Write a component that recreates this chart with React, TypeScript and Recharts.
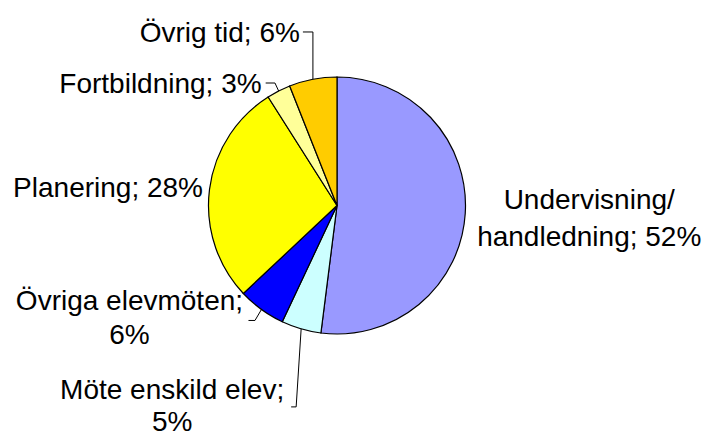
import { Cell, Pie, PieChart } from "recharts"

const categories = [
    "Undervisning/handledning",
    "Möte enskild elev",
    "Övriga elevmöten",
    "Planering",
    "Fortbildning",
    "Övrig tid",
]
const shares = [52, 5, 6, 28, 3, 6]
const colors = ["#9999FF", "#CCFFFF", "#0000FF", "#FFFF00", "#FFFF99", "#FFCC00"]

const data = categories.map((name, i) => ({ name, value: shares[i] }))

// label placement relative to the point where the slice's mid-angle meets the rim
const labelLayout: any[] = [
    { dx: 124, dy: -5, anchor: "middle", wrap: "slash", lh: 37 },
    { dx: -129, dy: 70, anchor: "middle", wrap: "name", lh: 32.5, line: [[-5, 78], [-10, 78]] },
    { dx: -132, dy: 0.5, anchor: "middle", wrap: "name", lh: 34, line: [[-6.5, 11], [-13, 11]] },
    { dx: -6.5, dy: 7.3, anchor: "end", wrap: "none" },
    { dx: -17, dy: 2.3, anchor: "end", wrap: "none", line: [[-3.7, -8], [-13, -8]] },
    { dx: -13, dy: -37.3, anchor: "end", wrap: "none", line: [[0, -47.3], [-10, -47.3]] },
]

const RADIAN = Math.PI / 180

function renderLabel(props: any) {
    const { cx, cy, midAngle, outerRadius, index, name, value } = props
    const layout = labelLayout[index]
    const ex = cx + outerRadius * Math.cos(-midAngle * RADIAN)
    const ey = cy + outerRadius * Math.sin(-midAngle * RADIAN)

    let lines: string[]
    if (layout.wrap === "slash") {
        const [a, b] = name.split("/")
        lines = [a + "/", `${b}; ${value}%`]
    } else if (layout.wrap === "name") {
        lines = [name + ";", `${value}%`]
    } else {
        lines = [`${name}; ${value}%`]
    }

    const points = layout.line
        ? [[0, 0], ...layout.line].map(([x, y]: number[]) => `${ex + x},${ey + y}`).join(" ")
        : null

    return (
        <g key={`label-${index}`}>
            {points && <polyline points={points} fill="none" stroke="#000" strokeWidth={1} />}
            <text
                x={ex + layout.dx}
                y={ey + layout.dy}
                textAnchor={layout.anchor}
                fontSize={28}
                fontFamily="'Liberation Sans', Arial, sans-serif"
                fill="#000"
            >
                {lines.map((l, i) => (
                    <tspan key={i} x={ex + layout.dx} dy={i === 0 ? 0 : layout.lh}>
                        {l}
                    </tspan>
                ))}
            </text>
        </g>
    )
}

export default function App() {
    return (
        <div style={{ position: "absolute", left: 0, top: 0, width: 707, height: 438, background: "#fff" }}>
            <PieChart width={707} height={438} margin={{ top: 0, right: 0, bottom: 0, left: 0 }}>
                <Pie
                    data={data}
                    dataKey="value"
                    nameKey="name"
                    cx={337}
                    cy={205.5}
                    outerRadius={128.5}
                    startAngle={90}
                    endAngle={-270}
                    stroke="#000"
                    strokeWidth={1.2}
                    label={renderLabel}
                    labelLine={false}
                    isAnimationActive={false}
                >
                    {data.map((d, i) => (
                        <Cell key={d.name} fill={colors[i]} />
                    ))}
                </Pie>
            </PieChart>
        </div>
    )
}
